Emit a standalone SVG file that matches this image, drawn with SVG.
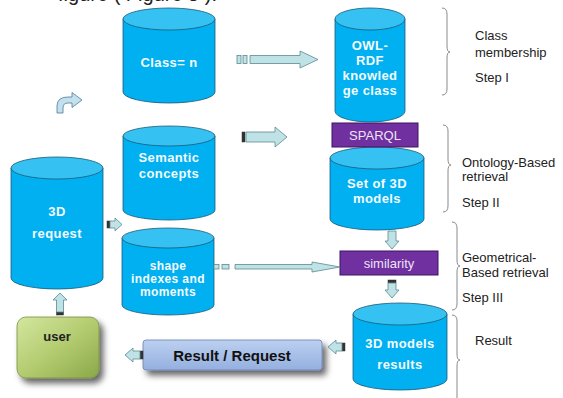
<svg xmlns="http://www.w3.org/2000/svg" width="563" height="398" viewBox="0 0 563 398">
<defs>
<linearGradient id="gUser" x1="0" y1="0" x2="1" y2="1">
<stop offset="0" stop-color="#d4e6a0"/><stop offset="0.5" stop-color="#b4cc70"/><stop offset="1" stop-color="#8aa848"/>
</linearGradient>
<linearGradient id="gRes" x1="0" y1="0" x2="0" y2="1">
<stop offset="0" stop-color="#bcd0f0"/><stop offset="1" stop-color="#94b0e0"/>
</linearGradient>
<filter id="sh" x="-20%" y="-20%" width="150%" height="160%">
<feDropShadow dx="4" dy="5" stdDeviation="3" flood-color="#000" flood-opacity="0.6"/>
</filter>
</defs>
<style>
.body{fill:#00b0f0;stroke:#1a5a78;stroke-width:0.8}
.top{fill:#35c2f2;stroke:#1a5a78;stroke-width:0.8}
.ct{font-family:"Liberation Sans",Arial,sans-serif;font-weight:bold;font-size:13px;letter-spacing:0.4px;fill:#f4fbff;text-anchor:middle}
.pbox{fill:#7030a0;stroke:#3c1460;stroke-width:1}
.pt{font-family:"Liberation Sans",Arial,sans-serif;font-size:13px;fill:#ece4f6;text-anchor:middle}
.arr{fill:#bfe2e6;stroke:#5a8a90;stroke-width:0.8}
.dk{fill:#333;stroke:#333;stroke-width:0.5}
.br{fill:none;stroke:#8a8a8a;stroke-width:1}
.lab{font-family:"Liberation Sans",Arial,sans-serif;font-size:13px;fill:#222}
</style>

<text x="217" y="1" text-anchor="end" style="font-family:'Liberation Sans',Arial,sans-serif;font-size:20px;fill:#222">figure ( Figure 5 ).</text>

<g id="classn">
<path class="body" d="M123,19 L123,92 A46,11 0 0 0 215,92 L215,19 Z"/>
<ellipse class="top" cx="169" cy="19" rx="46" ry="11"/>
<text class="ct" x="169" y="67">Class= n</text>
</g>

<g id="semantic">
<path class="body" d="M123,136 L123,210 A46,10 0 0 0 215,210 L215,136 Z"/>
<ellipse class="top" cx="169" cy="136" rx="46" ry="10"/>
<text class="ct" x="169" y="162">Semantic</text>
<text class="ct" x="169" y="178">concepts</text>
</g>

<g id="request">
<path class="body" d="M11,168 L11,278 A46,11 0 0 0 103,278 L103,168 Z"/>
<ellipse class="top" cx="57" cy="168" rx="46" ry="11"/>
<text class="ct" x="57" y="216">3D</text>
<text class="ct" x="57" y="238">request</text>
</g>

<g id="shape">
<path class="body" d="M122,238 L122,305 A46,10 0 0 0 214,305 L214,238 Z"/>
<ellipse class="top" cx="168" cy="238" rx="46" ry="10"/>
<text class="ct" x="168" y="270" style="font-size:12px">shape</text>
<text class="ct" x="168" y="283" style="font-size:12px">indexes and</text>
<text class="ct" x="168" y="296" style="font-size:12px">moments</text>
</g>

<g id="owl">
<path class="body" d="M335,19 L335,111 A35,11 0 0 0 405,111 L405,19 Z"/>
<ellipse class="top" cx="370" cy="19" rx="35" ry="11"/>
<text class="ct" x="370" y="50">OWL-</text>
<text class="ct" x="370" y="65">RDF</text>
<text class="ct" x="370" y="80">knowled</text>
<text class="ct" x="370" y="95">ge class</text>
</g>

<g id="set3d">
<path class="body" d="M330,158 L330,219 A47,11 0 0 0 424,219 L424,158 Z"/>
<ellipse class="top" cx="377" cy="158" rx="47" ry="11"/>
<text class="ct" x="377" y="188">Set of 3D</text>
<text class="ct" x="377" y="203">models</text>
</g>

<g id="sparql">
<rect class="pbox" x="332" y="123" width="86" height="24"/>
<text class="pt" x="375" y="140">SPARQL</text>
</g>

<g id="similarity">
<rect class="pbox" x="340" y="251" width="98" height="24"/>
<text class="pt" x="389" y="268">similarity</text>
</g>

<g id="results">
<path class="body" d="M353,314 L353,379 A47,11 0 0 0 447,379 L447,314 Z"/>
<ellipse class="top" cx="400" cy="314" rx="47" ry="11"/>
<text class="ct" x="400" y="348">3D models</text>
<text class="ct" x="400" y="369">results</text>
</g>

<g id="user">
<rect x="17" y="317" width="82" height="61" rx="9" fill="url(#gUser)" stroke="#7a9040" stroke-width="0.8" filter="url(#sh)"/>
<text x="57" y="341" text-anchor="middle" style="font-family:'Liberation Sans',Arial,sans-serif;font-weight:bold;font-size:13px;fill:#222">user</text>
</g>

<g id="resultrequest">
<rect x="143" y="340" width="179" height="30" rx="3" fill="url(#gRes)" stroke="#6a80b0" stroke-width="0.8" filter="url(#sh)"/>
<text x="232" y="361" text-anchor="middle" style="font-family:'Liberation Sans',Arial,sans-serif;font-weight:bold;font-size:15px;fill:#111">Result / Request</text>
</g>

<g id="connectors">
<rect class="arr" x="237" y="55.5" width="4" height="8"/>
<rect class="arr" x="243" y="55.5" width="4" height="8"/>
<polygon class="arr" points="250,55.5 300,55.5 300,51 318,59.5 300,68 300,63.5 250,63.5"/>
<rect class="dk" x="242" y="132" width="3" height="10"/>
<polygon class="arr" points="246,132 275,132 275,127 287,137 275,147 275,142 246,142"/>
<path class="arr" d="M57,113 L57,106 Q57,97 68,97 L72,97 L72,92.5 L82,100 L72,107.5 L72,103 L68,103 Q63,103 63,108 L63,113 Z" style="stroke:#4a7aa0;fill:#c4e0ec"/>
<rect class="dk" x="107" y="221" width="3" height="7"/>
<polygon class="arr" points="110,221 115,221 115,218 122,224.5 115,231 115,228 110,228"/>
<rect class="dk" x="56.5" y="312" width="7" height="3"/>
<polygon class="arr" points="56.5,312 56.5,300 53,300 60,293 67,300 63.5,300 63.5,312"/>
<rect class="arr" x="214" y="264.5" width="5" height="4.5"/>
<rect class="arr" x="222" y="264.5" width="7" height="4.5"/>
<polygon class="arr" points="235,264.5 312,264.5 312,262 340,267 312,272 312,269 235,269"/>
<polygon class="arr" points="388,231 396,231 396,241 399,241 392,249 385,241 388,241"/>
<rect class="dk" x="388" y="280" width="8" height="3"/>
<polygon class="arr" points="388,283 396,283 396,290 399,290 392,298 385,290 388,290"/>
<rect class="dk" x="342" y="343" width="3" height="8"/>
<polygon class="arr" points="342,343 336,343 336,340 328,347 336,354 336,351 342,351"/>
<rect class="dk" x="140" y="351" width="3" height="8"/>
<polygon class="arr" points="140,351 133,351 133,348 125,355 133,362 133,359 140,359"/>
</g>

<g id="braces">
<path class="br" d="M442,8 Q447,8 447,14 L447,46 Q447,52 450,52 Q447,52 447,58 L447,89 Q447,95 442,95"/>
<path class="br" d="M443,125 Q448,125 448,131 L448,159 Q448,165 451,165 Q448,165 448,171 L448,206 Q448,212 443,212"/>
<path class="br" d="M452,222 Q457,222 457,228 L457,260 Q457,266 460,266 Q457,266 457,272 L457,304 Q457,310 452,310"/>
<path class="br" d="M452,315 Q457,315 457,321 L457,354 Q457,360 460,360 Q457,360 457,366 L457,398"/>
</g>

<g id="labels">
<text class="lab" x="475" y="40">Class</text>
<text class="lab" x="475" y="57">membership</text>
<text class="lab" x="475" y="82">Step I</text>
<text class="lab" x="462" y="167">Ontology-Based</text>
<text class="lab" x="462" y="181">retrieval</text>
<text class="lab" x="462" y="207">Step II</text>
<text class="lab" x="462" y="262">Geometrical-</text>
<text class="lab" x="462" y="277">Based retrieval</text>
<text class="lab" x="462" y="302">Step III</text>
<text class="lab" x="475" y="345">Result</text>
</g>
</svg>
